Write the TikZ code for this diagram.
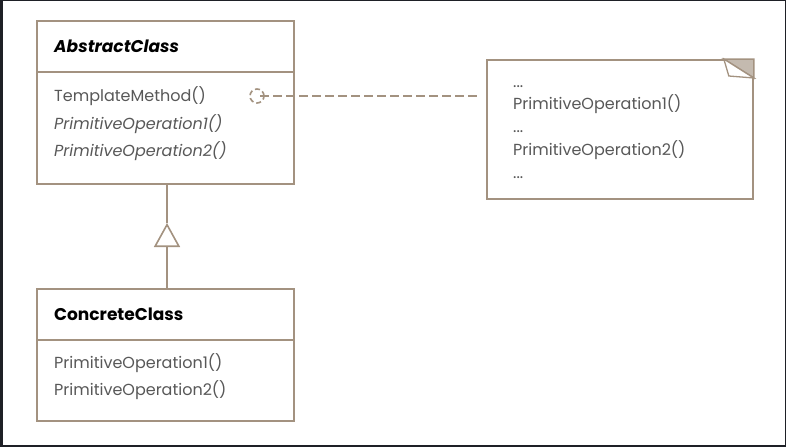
\documentclass[tikz,border=0pt]{standalone}
\usepackage{fontspec}
\setmainfont{Poppins}
\usetikzlibrary{arrows.meta}
\definecolor{umlbrown}{RGB}{163,146,128}
\definecolor{textgray}{RGB}{88,88,88}
\definecolor{foldgray}{RGB}{196,186,175}
\definecolor{framedark}{RGB}{30,32,38}

\begin{document}
\begin{tikzpicture}[x=1pt,y=-1pt,
    classpart/.style={draw=umlbrown, line width=1.8pt, minimum width=257pt, anchor=north west, inner sep=0pt},
    optext/.style={anchor=base west, text=textgray, inner sep=0pt, font=\fontsize{16}{18}\selectfont},
    opitalic/.style={optext, font=\fontsize{16}{18}\selectfont\itshape},
    titletext/.style={anchor=base west, inner sep=0pt, font=\fontsize{17}{19}\selectfont\bfseries}]
    % frame
    \fill[framedark] (0,0) rectangle (786,447);
    \fill[white] (3,1) rectangle (785,445);
    \useasboundingbox (0,0) rectangle (786,447);

    % abstract class
    \node[classpart, minimum height=51pt] (abshead) at (36,20) {};
    \node[classpart, minimum height=112pt] (absbody) at (36,71) {};
    \node[titletext, font=\fontsize{17}{19}\selectfont\bfseries\itshape] (absname) at (54,52) {AbstractClass};
    \node[optext] (tmethod) at (54,101) {TemplateMethod()};
    \node[opitalic] (absprim1) at (54,129) {PrimitiveOperation1()};
    \node[opitalic] (absprim2) at (54,156.5) {PrimitiveOperation2()};

    % concrete class
    \node[classpart, minimum height=51pt] (conchead) at (36,288) {};
    \node[classpart, minimum height=81pt] (concbody) at (36,339) {};
    \node[titletext] (concname) at (54,320) {ConcreteClass};
    \node[optext] (concprim1) at (54,368) {PrimitiveOperation1()};
    \node[optext] (concprim2) at (54,395.5) {PrimitiveOperation2()};

    % note
    \node[draw=umlbrown, line width=1.8pt, minimum width=266pt, minimum height=139pt, anchor=north west] (note) at (486,59) {};
    \filldraw[fill=foldgray, draw=umlbrown, line width=1.5pt] ([xshift=-30pt]note.north east) -- (note.north east) -- ([yshift=-19pt]note.north east) -- cycle;
    \filldraw[fill=white, draw=umlbrown, line width=1.3pt] ([xshift=-30pt]note.north east) -- ([xshift=-25pt,yshift=-17pt]note.north east) -- ([yshift=-19pt]note.north east) -- cycle;
    \node[optext] (dots1) at (513,87) {...};
    \node[optext] (noteprim1) at (513,109.5) {PrimitiveOperation1()};
    \node[optext] (dots2) at (513,132) {...};
    \node[optext] (noteprim2) at (513,155.5) {PrimitiveOperation2()};
    \node[optext] (dots3) at (513,178) {...};

    % connectors
    \node[draw=umlbrown, circle, minimum size=14pt, inner sep=0pt, line width=1.6pt, dash pattern=on 5pt off 3pt] (hook) at (257,96) {};
    \coordinate (noteend) at (477,96);
    \draw[umlbrown, line width=1.5pt, dash pattern=on 9pt off 4pt] ([xshift=3pt]hook.center) -- (noteend);

    \coordinate (gentip) at (167,223);
    \draw[umlbrown, line width=1.6pt, -{Triangle[open, length=24pt, width=26pt, line width=1.6pt]}] (gentip |- conchead.north) -- (gentip);
    \draw[umlbrown, line width=1.6pt] (gentip) -- (gentip |- absbody.south);
\end{tikzpicture}
\end{document}
